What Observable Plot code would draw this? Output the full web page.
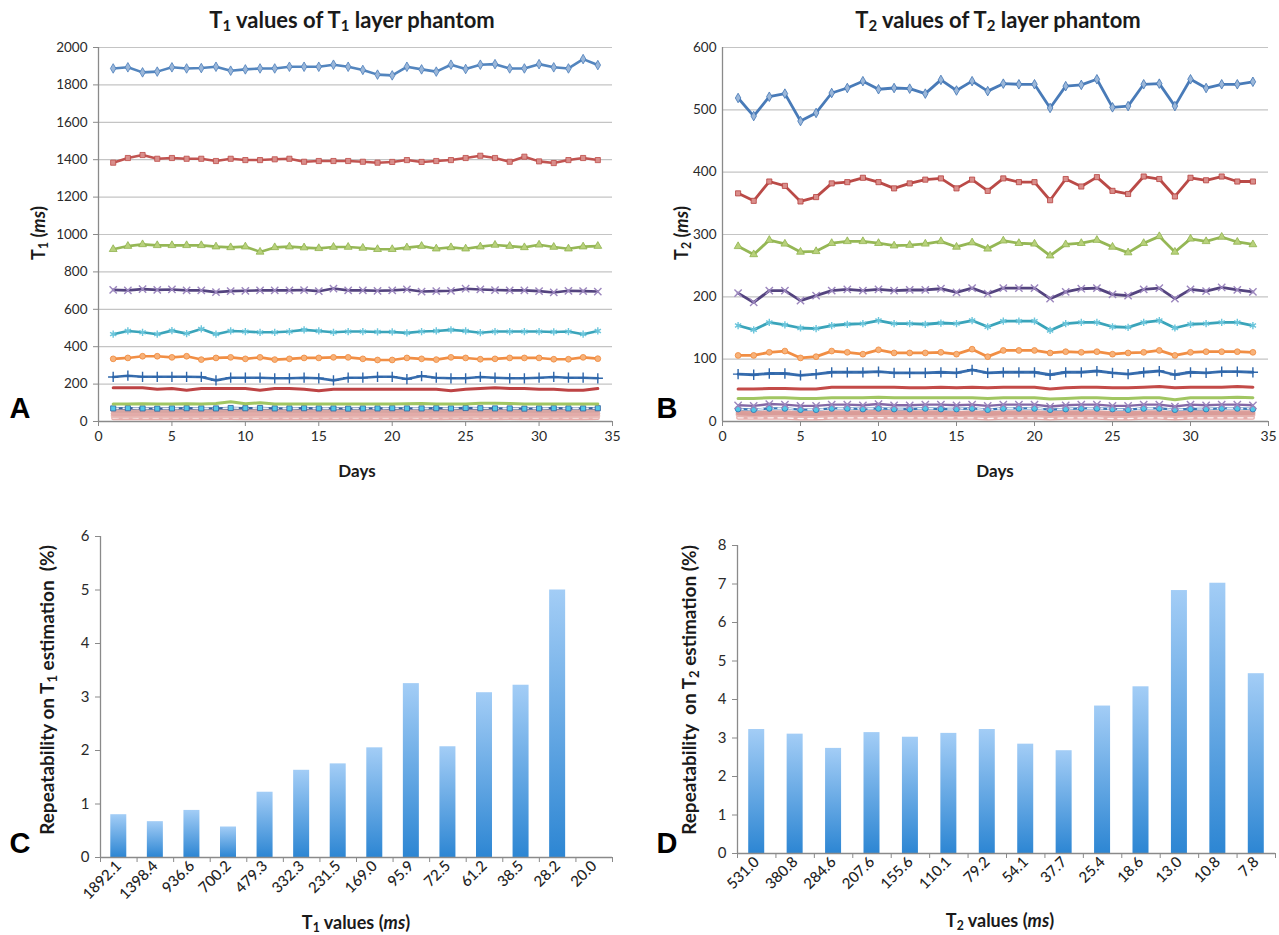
<!DOCTYPE html>
<html><head><meta charset="utf-8">
<script src="https://cdn.jsdelivr.net/npm/d3@7"></script>
<script src="https://cdn.jsdelivr.net/npm/@observablehq/plot@0.6"></script>
<style>
body{margin:0;background:#fff;font-family:Lato,"Open Sans",sans-serif;}
#root{position:relative;width:1279px;height:935px;overflow:hidden;background:#fff;}
.p{position:absolute;}
.t{position:absolute;white-space:nowrap;color:#1a1a1a;transform:translate(-50%,-50%);font-weight:bold;}
.rot{transform:translate(-50%,-50%) rotate(-90deg);}
.letter{font-family:"Liberation Sans",Arial,sans-serif;font-size:29px;color:#000;}
sub{font-size:68%;vertical-align:-0.25em;line-height:0;}
</style></head>
<body><div id="root"></div>
<script>
// ---------- DATA ----------
const days = [1,2,3,4,5,6,7,8,9,10,11,12,13,14,15,16,17,18,19,20,21,22,23,24,25,26,27,28,29,30,31,32,33,34];

// Panel A: T1 values of T1 layer phantom (ms), one array per layer
const a1 = [1888,1894,1867,1871,1894,1888,1890,1897,1876,1883,1888,1888,1897,1897,1897,1908,1897,1880,1855,1851,1897,1883,1871,1908,1885,1908,1911,1888,1888,1911,1894,1888,1938,1906];
const a2 = [1384,1409,1425,1405,1409,1405,1405,1393,1405,1398,1398,1402,1405,1389,1393,1393,1393,1389,1384,1388,1398,1388,1393,1398,1409,1421,1409,1389,1416,1391,1382,1398,1409,1398];
const a3 = [921,938,947,942,942,942,942,935,931,935,907,931,935,930,926,933,933,928,921,921,930,938,924,931,924,935,944,938,931,945,933,924,935,938];
const a4 = [704,701,708,704,706,701,701,692,697,699,701,701,701,703,697,711,701,701,699,701,706,695,697,699,710,706,703,701,701,697,690,699,697,695];
const a5 = [467,484,477,467,486,470,495,467,484,481,477,477,481,490,484,477,481,481,479,479,474,481,484,490,484,475,481,481,481,481,479,481,467,484];
const a6 = [335,340,349,349,343,349,331,340,343,335,343,331,335,340,340,343,343,335,329,329,340,335,331,343,340,333,335,340,340,340,333,333,343,336];
const a7 = [238,245,239,239,239,239,238,220,234,234,234,231,231,234,231,220,234,234,239,239,227,243,234,231,231,238,234,231,231,234,238,234,234,231];
const a8 = [181,181,181,172,176,167,176,176,176,176,167,176,176,172,164,172,172,172,172,172,172,172,172,164,172,176,181,176,176,172,172,167,167,176];
const a9 = [93,94,95,94,93,95,94,96,106,95,100,94,93,94,93,94,93,94,93,93,95,96,94,93,94,98,98,96,94,93,94,93,93,94];
const a10 = [70,71,70,69,70,71,70,70,72,71,72,70,70,71,70,70,69,70,70,71,70,70,71,70,72,71,70,70,69,70,71,70,70,71];
const a11 = [60,61,60,61,60,60,62,60,62,61,61,60,59,61,60,61,60,60,61,59,60,61,60,62,60,61,60,60,61,59,61,60,60,61];
const a12 = [42,43,41,42,43,42,41,43,44,42,43,42,41,43,42,42,43,41,42,43,42,41,43,42,44,42,42,43,41,42,43,42,41,43];
const a13 = [30,29,31,30,30,31,29,30,32,30,29,31,30,30,31,29,30,31,30,29,31,30,30,31,30,29,31,30,30,31,29,30,31,30];
const a14 = [18,19,18,18,19,18,18,19,19,18,18,19,18,18,19,18,18,19,18,18,19,18,18,19,19,18,18,19,18,18,19,18,18,19];

// Panel B: T2 values of T2 layer phantom (ms)
const b1 = [519,490,521,526,482,495,527,535,546,533,535,534,526,548,531,546,530,542,541,541,503,538,540,549,504,506,541,542,506,549,535,541,541,545];
const b2 = [366,354,385,378,353,360,382,384,391,384,374,382,388,390,374,388,370,390,384,384,355,389,377,392,370,365,393,389,361,391,387,393,385,385];
const b3 = [281,268,291,285,272,273,286,289,289,286,282,283,285,289,280,287,277,290,286,285,266,284,286,291,280,271,286,297,272,293,289,296,288,284];
const b4 = [206,191,210,210,194,202,210,212,210,212,210,211,211,213,207,214,205,214,214,214,197,208,213,214,204,202,212,214,197,212,209,215,211,208];
const b5 = [154,147,159,155,150,149,154,156,157,162,157,157,156,158,157,162,152,161,161,161,146,157,159,159,152,151,159,162,150,156,157,159,159,154];
const b6 = [106,106,111,113,102,104,113,111,108,115,110,110,110,111,108,116,104,114,114,114,110,112,111,112,108,110,111,114,106,111,112,112,112,111];
const b7 = [76,75,77,77,74,76,79,79,79,80,78,78,78,79,78,83,78,79,79,79,75,79,79,81,78,76,79,81,75,79,78,80,80,79];
const b8 = [52,52,53,53,52,52,55,55,55,55,55,54,54,55,54,55,54,55,55,55,52,54,55,55,54,54,55,56,54,55,55,55,56,55];
const b9 = [37,37,38,38,37,37,38,38,38,39,38,38,38,38,38,38,37,38,38,38,36,37,38,38,37,37,38,38,35,38,38,38,39,38];
const b10 = [26,25,28,27,25,25,27,27,26,28,26,26,27,27,26,27,25,27,27,27,24,26,27,27,25,25,27,27,24,27,26,27,27,26];
const b11 = [20,19,21,21,19,19,21,21,20,21,20,20,21,20,20,21,19,21,21,21,19,20,21,21,20,19,21,21,19,20,20,21,21,20];
const b12 = [14,13,14,14,13,13,14,14,14,15,14,14,14,14,13,14,13,14,14,14,13,14,14,14,13,13,14,14,13,14,14,14,14,14];
const b13 = [11,10,11,11,10,10,11,11,11,12,11,11,11,11,11,11,10,11,11,11,10,11,11,11,10,10,11,11,10,11,11,11,11,11];
const b14 = [6,6,6,6,5,5,6,6,6,6,6,6,6,6,6,6,5,6,6,6,5,6,6,6,5,5,6,6,5,6,6,6,6,6];

// Panel C: repeatability of T1 estimation
const t1Labels = ["1892.1","1398.4","936.6","700.2","479.3","332.3","231.5","169.0","95.9","72.5","61.2","38.5","28.2","20.0"];
const t1Repeat = [0.80,0.67,0.88,0.57,1.22,1.63,1.75,2.05,3.25,2.07,3.08,3.22,5.00,0];
// Panel D: repeatability of T2 estimation
const t2Labels = ["531.0","380.8","284.6","207.6","155.6","110.1","79.2","54.1","37.7","25.4","18.6","13.0","10.8","7.8"];
const t2Repeat = [3.22,3.10,2.73,3.14,3.02,3.12,3.22,2.84,2.67,3.83,4.33,6.83,7.02,4.67];

const ticksA = [0,200,400,600,800,1000,1200,1400,1600,1800,2000];
const ticksB = [0,100,200,300,400,500,600];
const ticksDays = [0,5,10,15,20,25,30,35];
const ticksC = [0,1,2,3,4,5,6];
const ticksD = [0,1,2,3,4,5,6,7,8];

// ---------- STYLES ----------
const seriesA = [a1,a2,a3,a4,a5,a6,a7,a8,a9,a10,a11,a12,a13,a14];
const seriesB = [b1,b2,b3,b4,b5,b6,b7,b8,b9,b10,b11,b12,b13,b14];
const lineColA = ["#4a7ebb","#be4b48","#8fb34c","#4b3a78","#2f9fb6","#f0883a","#2e66aa","#b9393a","#9cc35a","#2c5f9e","#d6a3a0","#e2aaa6","#e8b9b5","#e6a9a6"];
const markA   = ["diamond","square","triangle","times","asterisk","circle","plus",null,null,"square",null,null,null,null];
const fillA   = ["#9bb7d9","#d98e8b","#b8d17c","#9c87be","#6cc6dc","#f7b27a","#2e66aa",null,null,"#53c8e6",null,null,null,null];
const lineColB = ["#3f74b4","#b6403d","#8fb34c","#4b3a78","#2f9fb6","#f0883a","#2e66aa","#c0413e","#9cc35a","#7d60a0","#2c6fb0","#d99a97","#e6b3b0","#e6a9a6"];
const markB   = ["diamond","square","triangle","times","asterisk","circle","plus",null,null,"times","circle",null,null,null];
const fillB   = ["#9bb7d9","#d98e8b","#b8d17c","#9c87be","#6cc6dc","#f7b27a","#2e66aa",null,null,"#9c87be","#53c8e6",null,null,null];
const widthA = [2.6,2.6,2.6,2.6,2.6,2.6,2.6,3,3,2.4,5,5,5,4];
const widthB = [2.8,2.8,2.8,2.8,2.8,2.8,2.8,3,3,2.4,2.4,5,5,4];
const dashedA = [false,false,false,false,false,false,false,false,false,true,false,false,false,true];
const dashedB = [false,false,false,false,false,false,false,false,false,false,true,false,false,true];

const FONT = "Lato, 'Open Sans', sans-serif";
const root = document.getElementById("root");
const fmt = d => String(d);

function place(node, left, top) {
  const d = document.createElement("div");
  d.className = "p"; d.style.left = left + "px"; d.style.top = top + "px";
  d.appendChild(node); root.appendChild(d);
}
function text(html, x, y, size, cls) {
  const d = document.createElement("div");
  d.className = "t " + (cls || ""); d.innerHTML = html;
  d.style.left = x + "px"; d.style.top = y + "px"; d.style.fontSize = size + "px";
  root.appendChild(d);
}

function linePanel(series, yMax, yTicks, lineCol, marks, fills, widths, dashed, m, w, h, ytickSize) {
  const rows = [];
  series.forEach((s, k) => s.forEach((v, i) => rows.push({k, day: days[i], v})));
  const mk = [
    Plot.ruleY(yTicks.filter(t => t > 0), {stroke: "#c4c4c4", strokeWidth: 1.2}),
    Plot.axisY({ticks: yTicks, tickFormat: fmt, tickSize: ytickSize, tickPadding: 6, stroke: "#8a8a8a", fill: "#2a2a2a", fontSize: 13.5, label: null}),
    Plot.axisX({ticks: ticksDays, tickFormat: fmt, tickSize: 5, tickPadding: 5, stroke: "#8a8a8a", fill: "#2a2a2a", fontSize: 14, label: null}),
    Plot.ruleX([0], {stroke: "#8a8a8a", strokeWidth: 1.3}),
    Plot.ruleY([0], {stroke: "#8a8a8a", strokeWidth: 1.3})
  ];
  for (let k = series.length - 1; k >= 0; k--) {
    const data = rows.filter(r => r.k === k);
    mk.push(Plot.line(data, {x: "day", y: "v", stroke: lineCol[k], strokeWidth: widths[k], strokeOpacity: 0.95}));
    if (dashed[k]) mk.push(Plot.line(data, {x: "day", y: "v", stroke: "#ffffff", strokeWidth: 1.6, strokeDasharray: "5,5", strokeOpacity: 0.9}));
    if (marks[k]) {
      const line = marks[k] === "times" || marks[k] === "plus" || marks[k] === "asterisk";
      mk.push(Plot.dot(data, {x: "day", y: "v", symbol: marks[k], r: line ? 3.4 : 2.9,
        fill: line ? "none" : fills[k], stroke: line ? fills[k] : lineCol[k], strokeWidth: line ? 1.4 : 0.8}));
    }
  }
  return Plot.plot({
    width: w, height: h, marginLeft: m[0], marginRight: m[1], marginTop: m[2], marginBottom: m[3],
    style: {fontFamily: FONT, fontSize: "13.5px", background: "transparent", overflow: "visible"},
    x: {domain: [0, 35], axis: null},
    y: {domain: [0, yMax], axis: null},
    marks: mk
  });
}

function barPanel(labels, vals, yMax, yTicks, m, w, h, gid) {
  const rows = labels.map((l, i) => ({i, v: vals[i]}));
  const step = (w - m[0] - m[1]) / labels.length;
  const inset = (step - 16) / 2;
  const bounds = d3.range(labels.length + 1);
  const centers = labels.map((l, i) => i + 0.5);
  const svg = Plot.plot({
    width: w, height: h, marginLeft: m[0], marginRight: m[1], marginTop: m[2], marginBottom: m[3],
    style: {fontFamily: FONT, fontSize: "15px", background: "transparent", overflow: "visible"},
    x: {domain: [0, labels.length], axis: null},
    y: {domain: [0, yMax], axis: null},
    marks: [
      Plot.rectY(rows.filter(r => r.v > 0), {x: "i", interval: 1, y: "v", insetLeft: inset, insetRight: inset, fill: `url(#${gid})`}),
      Plot.axisY({ticks: yTicks, tickFormat: fmt, tickSize: 5, tickPadding: 6, stroke: "#8a8a8a", fill: "#2a2a2a", fontSize: 15, label: null}),
      Plot.axisX({ticks: bounds, tickSize: 5, tickFormat: () => "", stroke: "#8a8a8a", label: null}),
      Plot.axisX({ticks: centers, tickSize: 0, tickPadding: 6, tickRotate: -45, tickFormat: d => labels[Math.floor(d)], fill: "#222", fontSize: 15, fontWeight: 500, label: null}),
      Plot.ruleX([0], {stroke: "#8a8a8a", strokeWidth: 1.3}),
      Plot.ruleY([0], {stroke: "#8a8a8a", strokeWidth: 1.3})
    ]
  });
  d3.select(svg).insert("defs", ":first-child").html(
    `<linearGradient id="${gid}" x1="0" y1="0" x2="0" y2="1">
       <stop offset="0" stop-color="#a3cdf6"/><stop offset="1" stop-color="#2d86d3"/>
     </linearGradient>`);
  return svg;
}

place(linePanel(seriesA, 2000, ticksA, lineColA, markA, fillA, widthA, dashedA, [98, 28, 47, 69], 640, 490, 5), 0, 0);
place(linePanel(seriesB, 600, ticksB, lineColB, markB, fillB, widthB, dashedB, [82, 11, 47, 69], 639, 490, 0), 640, 0);
place(barPanel(t1Labels, t1Repeat, 6, ticksC, [100, 28, 46, 78], 640, 445, "gradC"), 0, 490);
place(barPanel(t2Labels, t2Repeat, 8, ticksD, [97, 4, 55, 82], 639, 445, "gradD"), 640, 490);

// titles & labels
text("T<sub>1</sub> values of T<sub>1</sub> layer phantom", 352, 19, 22);
text("T<sub>2</sub> values of T<sub>2</sub> layer phantom", 998, 19, 22);
text("Days", 357, 470, 17);
text("Days", 995, 470, 17);
text("T<sub>1</sub> (<i>ms</i>)", 38, 233, 18, "rot");
text("T<sub>2</sub> (<i>ms</i>)", 681, 233, 18, "rot");
text("T<sub>1</sub> values (<i>ms</i>)", 356, 922, 18);
text("T<sub>2</sub> values (<i>ms</i>)", 1000, 920, 18);
text("Repeatability on T<sub>1</sub> estimation&nbsp; (%)", 46, 690, 19, "rot");
text("Repeatability&nbsp; on T<sub>2</sub> estimation (%)", 688, 690, 19, "rot");
text("A", 20, 408, 29, "letter");
text("B", 667, 408, 29, "letter");
text("C", 20, 843, 29, "letter");
text("D", 667, 843, 29, "letter");
</script></body></html>
